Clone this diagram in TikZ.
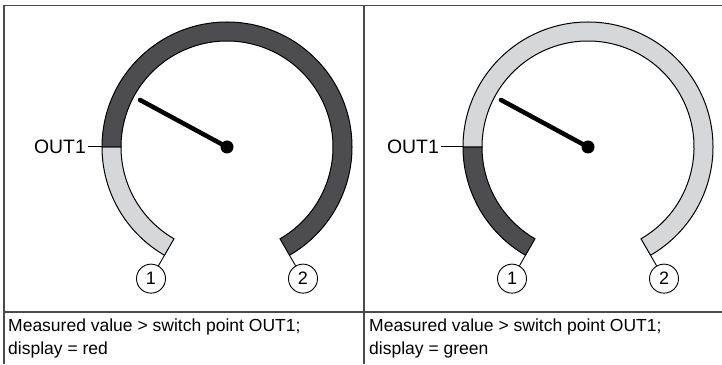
\documentclass[tikz,border=0pt]{standalone}
\usepackage{fontspec}
\setmainfont{Liberation Sans}
\definecolor{dialdark}{HTML}{4D4D4F}
\definecolor{diallight}{HTML}{D6D7D9}
\definecolor{framegray}{HTML}{4A4A4A}
\begin{document}
\begin{tikzpicture}[x=1pt, y=1pt,
    frame/.style={draw=framegray, line width=1.6pt},
    ring/.style={draw=black, line width=1pt},
    callout/.style={circle, draw, line width=0.9pt, fill=white, minimum size=29pt, inner sep=0pt, font=\fontsize{18}{18}\selectfont},
    lbl/.style={font=\fontsize{19.4}{22}\selectfont},
    caption/.style={font=\fontsize{17.5}{22.5}\selectfont}]
  \useasboundingbox (0,0) rectangle (722,364);
  % table lines
  \draw[frame] (722,358.5) -- (4,358.5) -- (4,0);
  \draw[frame] (364,358.5) -- (364,0);
  \draw[frame] (4,52) -- (722,52);
  \foreach \p/\x/\ca/\cb/\col/\tick in {l/0/diallight/dialdark/red/14, r/361/dialdark/diallight/green/22} {
    \begin{scope}[xshift=\x]
      \begin{scope}[shift={(227,217)}]
        % ring, two parts split at OUT1
        \filldraw[ring, fill=\ca] (240:125) arc[start angle=240, end angle=180, radius=125]
          -- (180:106) arc[start angle=180, end angle=240, radius=106] -- cycle;
        \filldraw[ring, fill=\cb] (180:125) arc[start angle=180, end angle=-60, radius=125]
          -- (-60:106) arc[start angle=-60, end angle=180, radius=106] -- cycle;
        % needle
        \node[circle, fill, minimum size=13pt, inner sep=0pt] (c\p) at (0,0) {};
        \coordinate (t\p) at (151.6:99);
        \draw[line width=4.5pt, line cap=round] (c\p.center) -- (t\p);
        % end markers
        \coordinate (e\p) at (-120:125);
        \coordinate (f\p) at (-60:125);
        \node[callout] (a\p) at (-120:152) {1};
        \node[callout] (b\p) at (-60:152) {2};
        \draw[line width=0.9pt] (e\p) -- (a\p);
        \draw[line width=0.9pt] (f\p) -- (b\p);
        % switch point
        \coordinate (k\p) at (180:125);
        \node[lbl, anchor=east, inner sep=2pt] (o\p) at ([xshift=-\tick pt]k\p) {OUT1};
        \draw[line width=1pt] (o\p.east) -- (k\p);
      \end{scope}
      \node[caption, anchor=north west, align=left, inner sep=0pt] (m\p) at (8,45) {Measured value > switch point OUT1;\\display = \col};
    \end{scope}
  }
\end{tikzpicture}
\end{document}
